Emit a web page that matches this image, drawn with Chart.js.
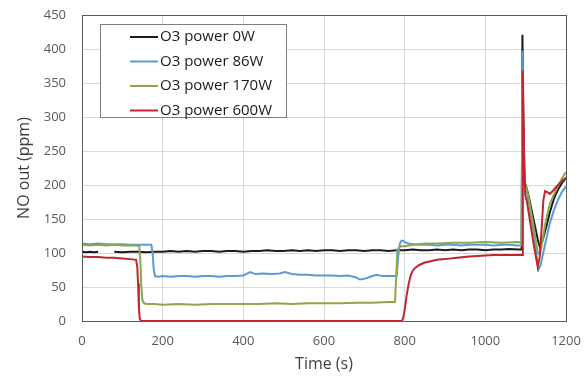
<!DOCTYPE html>
<html>
<head>
<meta charset="utf-8">
<script src="https://cdn.jsdelivr.net/npm/chart.js@4.4.1/dist/chart.umd.min.js"></script>
<style>
  html, body { margin: 0; padding: 0; background: #fff; }
  #wrap { width: 588px; height: 381px; }
</style>
</head>
<body>
<div id="wrap"><canvas id="noChart"></canvas></div>
<script>
// Tempos (s) e valores de NO (ppm)
const labels = ['O3 power 0W', 'O3 power 86W', 'O3 power 170W', 'O3 power 600W'];
const xTicks = [0, 200, 400, 600, 800, 1000, 1200];
const yTicks = [0, 50, 100, 150, 200, 250, 300, 350, 400, 450];

const t0W = [0, 10, 20, 30, 40, 60, 80, 100, 120, 140, 160, 180, 200, 220, 240, 260, 280, 300, 320, 340, 360, 380, 400,
  420, 440, 460, 480, 500, 520, 540, 560, 580, 600, 620, 640, 660, 680, 700, 720, 740, 760, 780, 800, 820, 840, 860,
  880, 900, 920, 940, 960, 980, 1000, 1020, 1040, 1060, 1080, 1090, 1092, 1094, 1097, 1103, 1110, 1120, 1130, 1135,
  1140, 1150, 1160, 1170, 1180, 1190, 1200];
const v0W = [102, 101, 102, 101, 102, null, 102, 101, 102, 102, 101, 102, 102, 103, 102, 103, 102, 103, 103, 102, 103, 103, 102,
  103, 103, 104, 103, 103, 104, 103, 104, 103, 104, 104, 103, 104, 104, 103, 104, 104, 103, 104, 104, 105, 104, 104,
  105, 104, 105, 104, 105, 105, 104, 105, 105, 106, 105, 105, 421, 300, 205, 194, 176, 148, 120, 109,
  115, 136, 160, 180, 193, 203, 210];

const t86W = [0, 20, 40, 60, 80, 100, 120, 140, 160, 172, 175, 178, 181, 190, 200, 220, 240, 260, 280, 300, 320, 340, 360,
  380, 400, 417, 430, 450, 470, 490, 503, 520, 540, 560, 580, 600, 620, 640, 660, 680, 689, 700, 715, 730, 745, 760,
  780, 784, 788, 792, 796, 800, 810, 820, 840, 860, 880, 900, 920, 940, 960, 980, 1000, 1020, 1040, 1060, 1080, 1090,
  1092, 1094, 1097, 1103, 1110, 1120, 1128, 1132, 1137, 1145, 1150, 1160, 1170, 1180, 1190, 1200];
const v86W = [114, 113, 114, 113, 113, 113, 112, 112, 112, 112, 100, 75, 66, 65, 66, 65, 66, 66, 65, 66, 66, 65, 66,
  66, 67, 72, 69, 70, 69, 70, 72, 69, 68, 68, 67, 67, 67, 66, 67, 64, 61, 62, 65, 68, 66, 66,
  66, 95, 114, 118, 118, 116, 114, 113, 112, 112, 111, 112, 112, 111, 112, 112, 112, 111, 112, 112, 111, 111,
  397, 260, 200, 190, 168, 128, 92, 76, 82, 104, 118, 144, 163, 178, 190, 198];

const t170W = [0, 20, 40, 60, 80, 100, 120, 135, 142, 145, 147, 150, 154, 160, 180, 200, 240, 280, 320, 360, 400, 440,
  480, 520, 560, 600, 640, 680, 720, 760, 776, 779, 782, 786, 790, 800, 820, 850, 880, 920, 960, 1000, 1040, 1080, 1090,
  1092, 1095, 1099, 1103, 1110, 1120, 1130, 1135, 1140, 1150, 1160, 1170, 1180, 1190, 1200];
const v170W = [112, 111, 112, 111, 112, 111, 111, 111, 110, 85, 50, 30, 26, 25, 25, 24, 25, 24, 25, 25, 25, 25,
  26, 25, 26, 26, 26, 27, 27, 28, 28, 65, 104, 108, 110, 110, 112, 114, 114, 115, 115, 116, 115, 116, 115,
  350, 230, 200, 193, 172, 138, 100, 98, 112, 148, 172, 186, 198, 210, 219];

const t600W = [0, 20, 40, 60, 80, 100, 120, 134, 137, 139, 141, 143, 146, 200, 300, 400, 500, 600, 700, 793, 797, 801,
  805, 810, 815, 820, 826, 835, 850, 865, 880, 900, 930, 960, 990, 1020, 1050, 1080, 1091, 1093, 1096, 1099, 1103, 1110,
  1120, 1130, 1135, 1140, 1144, 1148, 1155, 1160, 1170, 1180, 1190, 1200];
const v600W = [95, 94, 94, 93, 93, 92, 91, 90, 80, 55, 20, 4, 0, 0, 0, 0, 0, 0, 0, 0, 6, 20,
  38, 55, 67, 74, 78, 82, 86, 88, 90, 91, 93, 95, 96, 97, 97, 97, 97, 368, 250, 185, 176, 150,
  112, 79, 95, 140, 178, 191, 189, 187, 193, 200, 206, 211];

const colors = ['#1b1b1b', '#5b9bd5', '#8ea64c', '#c0262d'];

function pontos(ts, vs) {
    return ts.map((t, i) => ({ x: t, y: vs[i] }));
}

// Caixa da legenda e moldura da área do gráfico
const molduraLegenda = {
    id: 'molduraLegenda',
    afterDatasetsDraw(chart) {
        const a = chart.chartArea;
        const ctx = chart.ctx;
        ctx.save();
        ctx.strokeStyle = '#595959';
        ctx.lineWidth = 1;
        ctx.strokeRect(Math.round(a.left) + 0.5, Math.round(a.top) + 0.5, Math.round(a.right - a.left), Math.round(a.bottom - a.top));
        ctx.restore();
    },
    afterDraw(chart) {
        const ctx = chart.ctx;
        ctx.save();
        ctx.fillStyle = '#fff';
        ctx.fillRect(100.5, 24.5, 186, 93);
        ctx.strokeStyle = '#7f7f7f';
        ctx.lineWidth = 1;
        ctx.strokeRect(100.5, 24.5, 186, 93);
        ctx.font = '15px "Open Sans", sans-serif';
        ctx.textBaseline = 'middle';
        chart.data.datasets.forEach((ds, i) => {
            const y = 37 + i * 24.5;
            ctx.strokeStyle = ds.borderColor;
            ctx.lineWidth = 2;
            ctx.beginPath();
            ctx.moveTo(130, y);
            ctx.lineTo(158, y);
            ctx.stroke();
            ctx.fillStyle = '#1a1a1a';
            ctx.fillText(ds.label, 160, y);
        });
        ctx.restore();
    }
};

Chart.defaults.font.family = '"Open Sans", sans-serif';

const series = [[t0W, v0W], [t86W, v86W], [t170W, v170W], [t600W, v600W]];

new Chart(document.getElementById('noChart'), {
    type: 'line',
    data: {
        datasets: series.map((s, i) => ({
            label: labels[i],
            data: pontos(s[0], s[1]),
            borderColor: colors[i],
            backgroundColor: colors[i],
            borderWidth: 2,
            pointRadius: 0,
            tension: 0,
            spanGaps: false,
            clip: 3,
            order: 4 - i
        }))
    },
    options: {
        responsive: true,
        maintainAspectRatio: false,
        animation: false,
        layout: { padding: { top: 15, right: 22, left: 0, bottom: 0 } },
        plugins: {
            legend: { display: false },
            tooltip: { enabled: false }
        },
        scales: {
            x: {
                type: 'linear',
                min: 0,
                max: 1200,
                afterBuildTicks: s => { s.ticks = xTicks.map(v => ({ value: v })); },
                afterFit: s => { s.height = 60; s.paddingLeft = 0; s.paddingRight = 0; },
                ticks: { color: '#595959', font: { size: 13 }, padding: 12, callback: v => String(v) },
                grid: { color: '#d9d9d9', drawTicks: false },
                border: { color: '#595959' },
                title: { display: true, text: 'Time (s)', color: '#404040', font: { size: 16 }, padding: { top: 0, bottom: 7 } }
            },
            y: {
                min: 0,
                max: 450,
                afterBuildTicks: s => { s.ticks = yTicks.map(v => ({ value: v })); },
                afterFit: s => { s.width = 82; s.paddingTop = 0; s.paddingBottom = 0; },
                ticks: { color: '#595959', font: { size: 13 }, padding: 16, callback: v => String(v) },
                grid: { color: '#d9d9d9', drawTicks: false },
                border: { color: '#595959' },
                title: { display: true, text: 'NO out (ppm)', color: '#404040', font: { size: 16 }, padding: { top: 15, bottom: 0 } }
            }
        }
    },
    plugins: [molduraLegenda]
});
</script>
</body>
</html>
